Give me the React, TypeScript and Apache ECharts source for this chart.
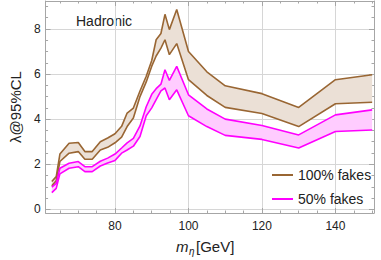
import React, { useEffect, useRef } from "react";
import * as echarts from "echarts";

const mass = [62.8, 64, 65, 67.5, 70, 71.8, 73.8, 76, 78, 80, 81.8, 83.3, 85, 86.8, 88.5, 90, 91.2, 92.5, 93.6, 94.8, 96.8, 100, 105, 110, 120, 130, 140, 150];
const brownUpper = [1.23, 1.45, 2.45, 2.93, 2.96, 2.56, 2.56, 3.0, 3.16, 3.35, 3.68, 4.27, 4.49, 5.25, 5.9, 6.6, 7.52, 7.8, 8.65, 7.97, 8.86, 7.0, 6.1, 5.48, 5.13, 4.52, 5.75, 5.97];
const brownLower = [1.04, 1.27, 2.12, 2.49, 2.56, 2.22, 2.22, 2.63, 2.75, 2.95, 3.2, 3.67, 4.05, 5.0, 5.65, 6.35, 6.8, 7.15, 7.52, 6.86, 7.35, 5.75, 5.05, 4.52, 4.25, 3.67, 4.68, 4.75];
const magentaUpper = [0.98, 1.15, 1.82, 2.04, 2.12, 1.89, 1.89, 2.13, 2.27, 2.45, 2.72, 2.95, 3.15, 3.7, 4.55, 5.1, 5.35, 5.55, 6.19, 5.72, 6.34, 5.08, 4.45, 4.0, 3.72, 3.3, 4.19, 4.41];
const magentaLower = [0.74, 0.93, 1.57, 1.82, 1.89, 1.67, 1.67, 1.92, 2.05, 2.17, 2.49, 2.63, 2.8, 3.23, 4.15, 4.5, 4.86, 5.25, 5.38, 4.86, 5.3, 4.15, 3.67, 3.28, 3.1, 2.72, 3.45, 3.52];

const xMajorTicks = [80, 100, 120, 140];
const xMinorTicks = [65, 70, 75, 85, 90, 95, 105, 110, 115, 125, 130, 135, 145, 150];
const yMajorTicks = [0, 2, 4, 6, 8];
const yMinorTicks = [0.5, 1, 1.5, 2.5, 3, 3.5, 4.5, 5, 5.5, 6.5, 7, 7.5, 8.5, 9];

const seriesNames = ["100% fakes", "50% fakes"];

const X_MIN = 61.1;
const X_MAX = 150.5;
const Y_MIN = -0.164;
const Y_MAX = 9.24;

const BROWN = "#996633";
const BROWN_FILL = "#ebe0d6";
const MAGENTA = "#ff00ff";
const MAGENTA_FILL = "#ffccff";
const FRAME = "#a6a6a6";
const GRID = "#d6d6d6";
const TEXT = "#222222";
const FONT = "Liberation Sans, Arial, sans-serif";

function bandSeries(upper: number[], lower: number[], fill: string) {
  return {
    type: "custom",
    coordinateSystem: "cartesian2d",
    xAxisIndex: 0,
    yAxisIndex: 0,
    silent: true,
    clip: true,
    z: 1,
    data: [[mass[0], lower[0]]],
    renderItem: (_params: any, api: any) => {
      const pts: number[][] = [];
      for (let i = 0; i < mass.length; i++) pts.push(api.coord([mass[i], upper[i]]));
      for (let i = mass.length - 1; i >= 0; i--) pts.push(api.coord([mass[i], lower[i]]));
      return { type: "polygon", shape: { points: pts }, style: { fill } };
    },
  };
}

function lineSeries(name: string, values: number[], color: string) {
  return {
    type: "line",
    name,
    xAxisIndex: 0,
    yAxisIndex: 0,
    data: mass.map((m, i) => [m, values[i]]),
    symbol: "none",
    color,
    itemStyle: { color },
    lineStyle: { color, width: 1.6 },
    z: 3,
  };
}

function xAxis(position: string, ticks: number[], len: number, major: boolean, label: boolean) {
  return {
    type: "value",
    position,
    min: X_MIN,
    max: X_MAX,
    axisLine: { show: major, onZero: false, lineStyle: { color: FRAME, width: 1 } },
    axisTick: { show: true, inside: true, length: len, customValues: ticks, lineStyle: { color: FRAME, width: 1 } },
    axisLabel: label
      ? { show: true, customValues: ticks, margin: 7, fontSize: 12, color: TEXT, fontFamily: FONT }
      : { show: false },
    splitLine: { show: major && label, lineStyle: { color: GRID, width: 1 } },
  };
}

function yAxis(position: string, ticks: number[], len: number, major: boolean, label: boolean) {
  return {
    type: "value",
    position,
    min: Y_MIN,
    max: Y_MAX,
    axisLine: { show: major, onZero: false, lineStyle: { color: FRAME, width: 1 } },
    axisTick: { show: true, inside: true, length: len, customValues: ticks, lineStyle: { color: FRAME, width: 1 } },
    axisLabel: label
      ? { show: true, customValues: ticks, margin: 5, fontSize: 12, color: TEXT, fontFamily: FONT }
      : { show: false },
    splitLine: { show: major && label, lineStyle: { color: GRID, width: 1 } },
    ...(label
      ? {
          name: "λ@95%CL",
          nameLocation: "middle",
          nameGap: 21,
          nameTextStyle: { fontSize: 15, color: TEXT, fontFamily: FONT },
        }
      : {}),
  };
}

export default function App() {
  const ref = useRef<HTMLDivElement>(null);
  useEffect(() => {
    if (!ref.current) return;
    const chart = echarts.init(ref.current, null, { renderer: "svg" });
    chart.setOption({
      animation: false,
      backgroundColor: "#ffffff",
      grid: { left: 36, right: 7, top: 1, bottom: 47, containLabel: false },
      xAxis: [
        xAxis("bottom", xMajorTicks, 5, true, true),
        xAxis("bottom", xMinorTicks, 2.5, false, false),
        xAxis("top", xMajorTicks, 5, true, false),
        xAxis("top", xMinorTicks, 2.5, false, false),
      ],
      yAxis: [
        yAxis("left", yMajorTicks, 5, true, true),
        yAxis("left", yMinorTicks, 2.5, false, false),
        yAxis("right", yMajorTicks, 5, true, false),
        yAxis("right", yMinorTicks, 2.5, false, false),
      ],
      legend: {
        data: seriesNames,
        orient: "vertical",
        left: 267,
        top: 162,
        itemWidth: 21,
        itemHeight: 2,
        itemGap: 8,
        icon: "rect",
        textStyle: { fontSize: 14, color: TEXT, fontFamily: FONT, lineHeight: 16 },
        selectedMode: false,
      },
      graphic: [
        {
          type: "text",
          left: 76,
          top: 14,
          style: { text: "Hadronic", fontSize: 14, fill: TEXT, fontFamily: FONT },
        },
        {
          type: "text",
          left: 176,
          top: 239,
          style: { text: "m", fontSize: 15, fontStyle: "italic", fill: TEXT, fontFamily: FONT },
        },
        {
          type: "text",
          left: 189,
          top: 246,
          style: { text: "η", fontSize: 10, fontStyle: "italic", fill: TEXT, fontFamily: FONT },
        },
        {
          type: "text",
          left: 196,
          top: 239,
          style: { text: "[GeV]", fontSize: 15, fill: TEXT, fontFamily: FONT },
        },
      ],
      series: [
        bandSeries(brownUpper, brownLower, BROWN_FILL),
        bandSeries(magentaUpper, magentaLower, MAGENTA_FILL),
        lineSeries(seriesNames[0], brownUpper, BROWN),
        lineSeries(seriesNames[0], brownLower, BROWN),
        lineSeries(seriesNames[1], magentaUpper, MAGENTA),
        lineSeries(seriesNames[1], magentaLower, MAGENTA),
      ],
    });
    return () => chart.dispose();
  }, []);
  return <div ref={ref} style={{ width: 381, height: 260, position: "absolute", left: 0, top: 0 }} />;
}
